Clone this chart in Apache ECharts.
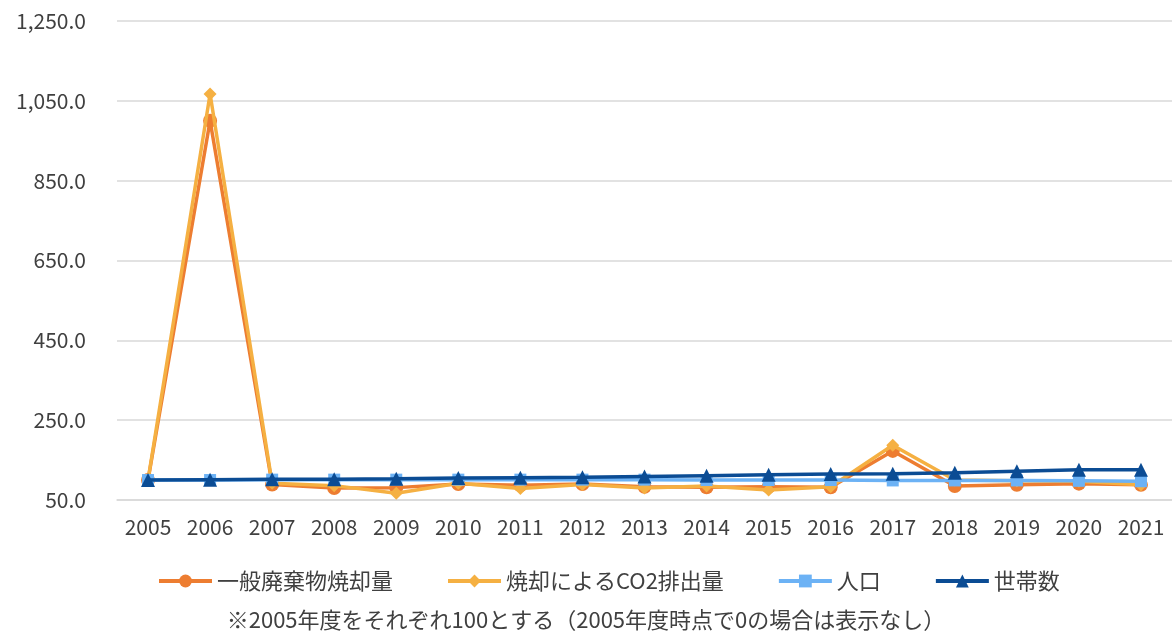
<!DOCTYPE html>
<html><head><meta charset="utf-8">
<script src="https://cdn.jsdelivr.net/npm/echarts@6/dist/echarts.min.js"></script>
<style>html,body{margin:0;padding:0;background:#fff}#c{width:1172px;height:637px}</style>
</head><body><div id="c"></div>
<script>
const years = ['2005','2006','2007','2008','2009','2010','2011','2012','2013','2014','2015','2016','2017','2018','2019','2020','2021'];
const wasteIncineration = [100,1000,89,80,81,90,87,90,83,82,83,82,173,85,88,91,88];
const co2Emission = [100,1067,92,86,67,92,79,89,80,85,75,83,187,100,98,97,88];
const population = [100,100,101,101,101,101,101,101,101,100,100,100,99,99,99,98,97];
const households = [100,101,102,102,103,105,106,107,109,111,113,115,116,118,122,126,126];
const seriesNames = ['一般廃棄物焼却量','焼却によるCO2排出量','人口','世帯数'];
const note = '※2005年度をそれぞれ100とする（2005年度時点で0の場合は表示なし）';

const FONT = '"Noto Sans CJK JP", "Noto Sans", sans-serif';
const colors = ['#ED7D31','#F5B042','#6CB2F5','#0B4C94'];
const symbols = ['circle','diamond','rect','triangle'];
const sizes = [14,13,12,14];
const datasets = [wasteIncineration, co2Emission, population, households];

const chart = echarts.init(document.getElementById('c'), null, {renderer:'canvas'});
chart.setOption({
  animation:false,
  textStyle:{fontFamily:FONT},
  grid:{left:117,right:0,top:21,bottom:137},
  legend:{
    data:seriesNames, bottom:40, left:152, itemWidth:53, itemHeight:16, itemGap:53,
    lineStyle:{width:4},
    textStyle:{fontSize:22,color:'#404040',fontFamily:FONT}
  },
  title:{text:note,left:'center',bottom:1,textStyle:{fontSize:22,fontWeight:'normal',color:'#404040',fontFamily:FONT}},
  xAxis:{type:'category',data:years,boundaryGap:true,
    axisLine:{lineStyle:{color:'#d9d9d9',width:1.5}},axisTick:{show:false},
    axisLabel:{fontSize:21,color:'#404040',margin:17}},
  yAxis:{type:'value',min:50,max:1250,interval:200,
    axisLine:{show:false},axisTick:{show:false},
    splitLine:{lineStyle:{color:'#d9d9d9',width:1.5}},
    axisLabel:{fontSize:21,color:'#404040',margin:31,
      formatter:v=>v.toLocaleString('en-US',{minimumFractionDigits:1,maximumFractionDigits:1})}},
  series:seriesNames.map((n,i)=>({
    name:n,type:'line',data:datasets[i],symbol:symbols[i],symbolSize:sizes[i],
    lineStyle:{width:3.5,color:colors[i]},itemStyle:{color:colors[i]},z:2+i
  }))
});
</script></body></html>
